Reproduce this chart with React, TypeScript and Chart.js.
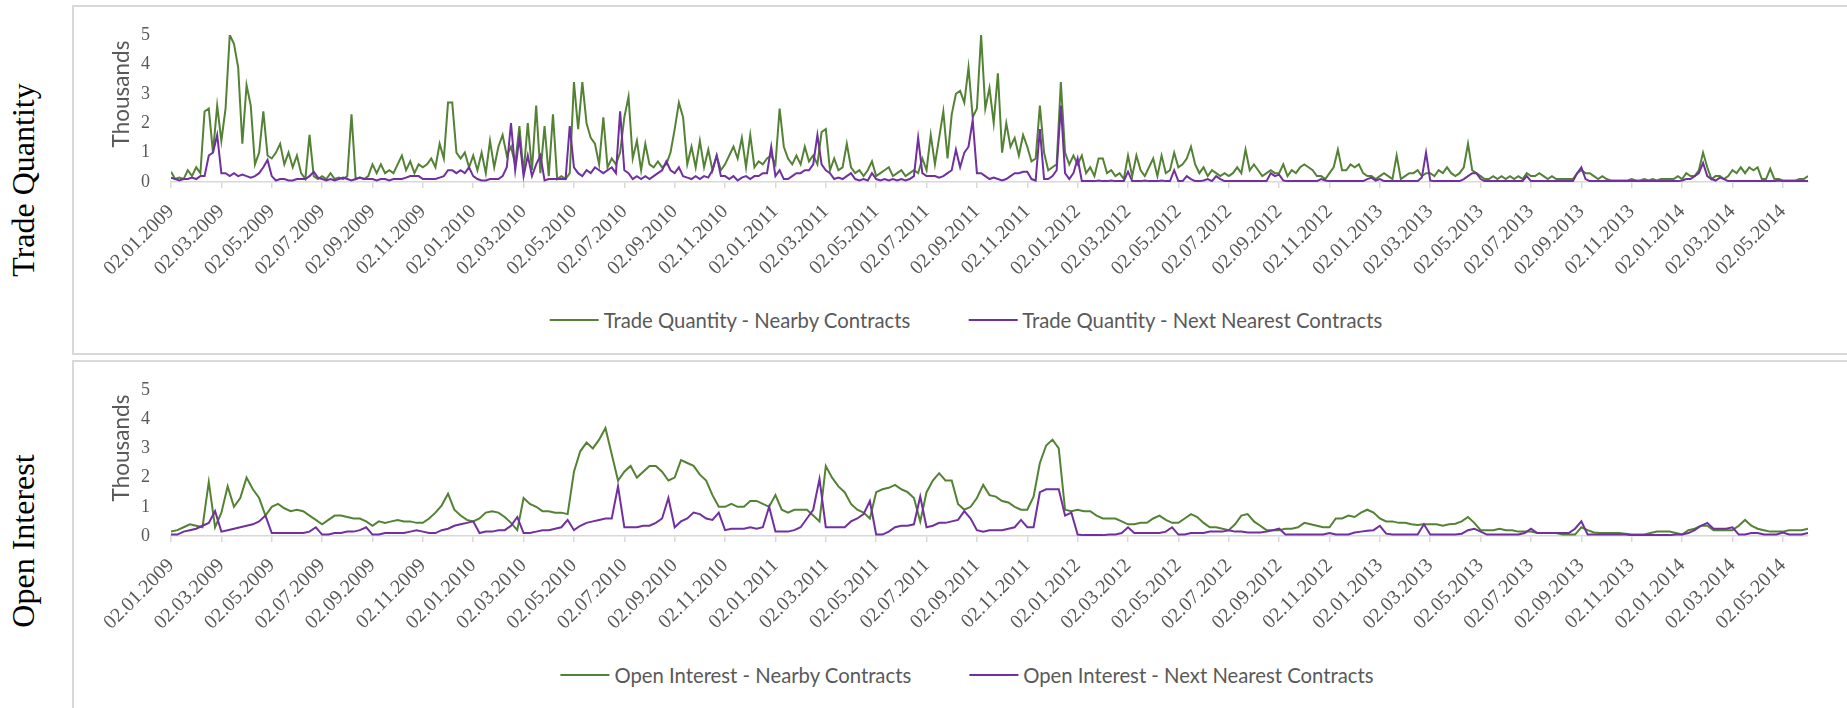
import React, { useEffect, useRef } from "react";
import { Chart, registerables } from "chart.js";

Chart.register(...registerables);

const GREEN = "#548235";
const PURPLE = "#7030a0";
const AXIS_GRAY = "#d9d9d9";
const TEXT_GRAY = "#595959";
const SERIF = "'Liberation Serif', 'Times New Roman', serif";
const SANS = "Lato, 'Open Sans', sans-serif";

// x axis: months after 02.01.2009
const tickMonths = [0, 2, 4, 6, 8, 10, 12, 14, 16, 18, 20, 22, 24, 26, 28, 30, 32, 34, 36, 38, 40, 42, 44, 46, 48, 50, 52, 54, 56, 58, 60, 62, 64];
const tickLabels = [
  "02.01.2009", "02.03.2009", "02.05.2009", "02.07.2009", "02.09.2009", "02.11.2009",
  "02.01.2010", "02.03.2010", "02.05.2010", "02.07.2010", "02.09.2010", "02.11.2010",
  "02.01.2011", "02.03.2011", "02.05.2011", "02.07.2011", "02.09.2011", "02.11.2011",
  "02.01.2012", "02.03.2012", "02.05.2012", "02.07.2012", "02.09.2012", "02.11.2012",
  "02.01.2013", "02.03.2013", "02.05.2013", "02.07.2013", "02.09.2013", "02.11.2013",
  "02.01.2014", "02.03.2014", "02.05.2014",
];
const yTicks = [0, 1, 2, 3, 4, 5];
const X_MAX = 65;
const TQ_STEP = 1 / 6; // months between trade-quantity samples
const OI_STEP = 0.25; // months between open-interest samples

const tqLabels = ["Trade Quantity - Nearby Contracts", "Trade Quantity - Next Nearest Contracts"];
const oiLabels = ["Open Interest - Nearby Contracts", "Open Interest - Next Nearest Contracts"];

// Trade Quantity, thousands
const tqNearby = [
  0.35, 0.1, 0.15, 0.1, 0.4, 0.2,
  0.5, 0.3, 2.4, 2.5, 1.0, 2.6,
  1.4, 2.5, 5.0, 4.7, 3.9, 1.3,
  3.3, 2.6, 0.6, 1.0, 2.4, 0.9,
  0.8, 1.0, 1.3, 0.6, 1.0, 0.5,
  0.9, 0.3, 0.1, 1.6, 0.2, 0.1,
  0.2, 0.1, 0.3, 0.1, 0.15, 0.1,
  0.2, 2.3, 0.1, 0.15, 0.1, 0.2,
  0.6, 0.3, 0.6, 0.3, 0.4, 0.3,
  0.6, 0.9, 0.4, 0.7, 0.3, 0.6,
  0.5, 0.6, 0.8, 0.5, 1.3, 0.8,
  2.7, 2.7, 1.0, 0.8, 1.0, 0.5,
  0.9, 0.4, 1.0, 0.3, 1.4, 0.5,
  1.2, 1.6, 0.9, 1.2, 0.6, 1.9,
  0.3, 2.0, 0.4, 2.6, 0.3, 1.9,
  0.2, 2.3, 0.1, 0.2, 0.1, 0.3,
  3.4, 1.8, 3.4, 2.0, 1.5, 1.3,
  0.6, 2.2, 0.5, 0.8, 0.6, 1.0,
  2.2, 2.9, 0.8, 1.4, 0.4, 1.3,
  0.6, 0.5, 0.7, 0.5, 0.6, 1.0,
  1.8, 2.7, 2.2, 0.6, 1.2, 0.5,
  1.4, 0.5, 1.1, 0.4, 0.9, 0.4,
  0.6, 0.9, 1.2, 0.8, 1.5, 0.5,
  1.6, 0.5, 0.7, 0.6, 0.8, 0.9,
  0.6, 2.5, 1.2, 0.8, 0.6, 0.9,
  0.6, 1.2, 0.7, 0.9, 0.6, 1.7,
  1.8, 0.4, 0.8, 0.4, 0.5, 1.3,
  0.5, 0.3, 0.4, 0.2, 0.4, 0.7,
  0.2, 0.3, 0.4, 0.5, 0.2, 0.3,
  0.4, 0.2, 0.3, 0.4, 0.3, 0.8,
  0.4, 1.6, 0.6, 1.5, 2.4, 0.8,
  2.3, 3.0, 3.1, 2.7, 3.9, 2.2,
  2.5, 5.0, 2.5, 3.2, 2.0, 3.7,
  1.0, 2.0, 1.2, 1.5, 0.9, 1.6,
  1.2, 0.7, 0.8, 2.6, 1.0, 0.4,
  0.5, 0.6, 3.4, 1.0, 0.6, 0.9,
  0.6, 0.9, 0.3, 0.5, 0.2, 0.8,
  0.8, 0.3, 0.4, 0.2, 0.3, 0.1,
  0.9, 0.2, 0.9, 0.4, 0.2, 0.5,
  0.8, 0.2, 0.9, 0.3, 0.4, 1.0,
  0.5, 0.6, 0.8, 1.2, 0.6, 0.3,
  0.5, 0.2, 0.4, 0.3, 0.2, 0.3,
  0.2, 0.3, 0.5, 0.3, 1.1, 0.4,
  0.6, 0.4, 0.2, 0.3, 0.4, 0.3,
  0.3, 0.6, 0.2, 0.4, 0.3, 0.5,
  0.6, 0.5, 0.4, 0.2, 0.2, 0.1,
  0.3, 0.5, 1.1, 0.4, 0.4, 0.6,
  0.5, 0.6, 0.3, 0.2, 0.2, 0.1,
  0.2, 0.3, 0.2, 0.1, 0.9, 0.1,
  0.2, 0.3, 0.3, 0.4, 0.2, 0.3,
  0.3, 0.2, 0.4, 0.3, 0.5, 0.3,
  0.2, 0.3, 0.5, 1.3, 0.4, 0.3,
  0.2, 0.1, 0.1, 0.2, 0.1, 0.2,
  0.1, 0.2, 0.1, 0.2, 0.1, 0.3,
  0.2, 0.2, 0.3, 0.2, 0.1, 0.2,
  0.1, 0.1, 0.1, 0.1, 0.1, 0.3,
  0.4, 0.3, 0.3, 0.2, 0.1, 0.2,
  0.1, 0.05, 0.05, 0.05, 0.05, 0.05,
  0.1, 0.05, 0.05, 0.1, 0.05, 0.1,
  0.05, 0.1, 0.1, 0.1, 0.1, 0.2,
  0.1, 0.3, 0.2, 0.2, 0.4, 1.0,
  0.5, 0.1, 0.2, 0.2, 0.1, 0.2,
  0.4, 0.3, 0.5, 0.3, 0.5, 0.4,
  0.5, 0.1, 0.1, 0.45, 0.1, 0.1,
  0.05, 0.05, 0.05, 0.05, 0.1, 0.1,
  0.2,
];

const tqNext = [
  0.15, 0.1, 0.05, 0.1, 0.1, 0.15,
  0.1, 0.2, 0.2, 0.9, 1.0, 1.6,
  0.3, 0.3, 0.2, 0.3, 0.2, 0.25,
  0.2, 0.15, 0.2, 0.3, 0.5, 0.75,
  0.2, 0.05, 0.1, 0.1, 0.05, 0.05,
  0.1, 0.1, 0.1, 0.2, 0.35, 0.15,
  0.1, 0.05, 0.1, 0.05, 0.1, 0.15,
  0.1, 0.05, 0.1, 0.15, 0.1, 0.1,
  0.1, 0.05, 0.1, 0.1, 0.05, 0.1,
  0.1, 0.1, 0.15, 0.2, 0.2, 0.2,
  0.1, 0.1, 0.1, 0.1, 0.15, 0.2,
  0.4, 0.4, 0.3, 0.4, 0.3, 0.5,
  0.2, 0.1, 0.05, 0.05, 0.1, 0.1,
  0.1, 0.2, 0.5, 2.0, 0.4, 1.5,
  0.2, 0.9, 0.2, 0.6, 0.9, 0.05,
  0.1, 0.1, 0.1, 0.1, 0.1, 1.9,
  0.5, 0.3, 0.2, 0.4, 0.3, 0.5,
  0.4, 0.3, 0.4, 0.5, 0.3, 2.4,
  0.4, 0.3, 0.1, 0.2, 0.1, 0.2,
  0.1, 0.2, 0.3, 0.4, 0.7, 0.4,
  0.3, 0.5, 0.2, 0.15, 0.1, 0.2,
  0.1, 0.2, 0.15, 0.4, 0.9, 0.2,
  0.2, 0.1, 0.2, 0.05, 0.15, 0.2,
  0.1, 0.2, 0.2, 0.3, 0.3, 1.2,
  0.2, 0.4, 0.1, 0.1, 0.2, 0.3,
  0.3, 0.4, 0.4, 0.6, 1.6, 0.6,
  0.4, 0.3, 0.1, 0.15, 0.1, 0.2,
  0.3, 0.1, 0.05, 0.1, 0.05, 0.3,
  0.1, 0.05, 0.1, 0.05, 0.1, 0.05,
  0.1, 0.05, 0.1, 0.2, 1.5, 0.3,
  0.2, 0.2, 0.2, 0.15, 0.2, 0.3,
  0.4, 1.1, 0.5, 1.0, 1.2, 2.1,
  0.3, 0.3, 0.2, 0.1, 0.15, 0.1,
  0.05, 0.1, 0.2, 0.3, 0.3, 0.35,
  0.35, 0.1, 0.05, 1.8, 0.1, 0.1,
  0.2, 0.4, 2.6, 0.3, 0.1, 0.3,
  0.8, 0.03, 0.03, 0.03, 0.03, 0.05,
  0.03, 0.03, 0.05, 0.03, 0.03, 0.03,
  0.35, 0.03, 0.03, 0.03, 0.05, 0.03,
  0.03, 0.03, 0.05, 0.03, 0.03, 0.4,
  0.03, 0.03, 0.2, 0.1, 0.03, 0.03,
  0.05, 0.1, 0.03, 0.2, 0.1, 0.03,
  0.03, 0.03, 0.03, 0.03, 0.03, 0.03,
  0.03, 0.03, 0.03, 0.03, 0.3, 0.2,
  0.25, 0.05, 0.03, 0.03, 0.03, 0.03,
  0.03, 0.03, 0.03, 0.03, 0.1, 0.05,
  0.03, 0.03, 0.03, 0.03, 0.03, 0.03,
  0.03, 0.03, 0.03, 0.1, 0.15, 0.05,
  0.1, 0.03, 0.03, 0.03, 0.03, 0.03,
  0.03, 0.03, 0.03, 0.03, 0.15, 1.0,
  0.05, 0.03, 0.03, 0.03, 0.03, 0.03,
  0.03, 0.03, 0.1, 0.2, 0.3, 0.3,
  0.1, 0.03, 0.03, 0.03, 0.03, 0.03,
  0.03, 0.03, 0.03, 0.03, 0.03, 0.2,
  0.03, 0.03, 0.03, 0.03, 0.03, 0.03,
  0.03, 0.03, 0.03, 0.03, 0.03, 0.3,
  0.5, 0.1, 0.03, 0.03, 0.03, 0.03,
  0.03, 0.03, 0.03, 0.03, 0.03, 0.03,
  0.03, 0.03, 0.03, 0.03, 0.03, 0.03,
  0.03, 0.03, 0.03, 0.03, 0.03, 0.03,
  0.05, 0.1, 0.1, 0.2, 0.3, 0.65,
  0.2, 0.1, 0.05, 0.15, 0.1, 0.03,
  0.03, 0.03, 0.03, 0.03, 0.03, 0.03,
  0.03, 0.03, 0.03, 0.03, 0.03, 0.05,
  0.03, 0.03, 0.03, 0.03, 0.03, 0.03,
  0.03,
];

// Open Interest, thousands
const oiNearby = [
  0.15, 0.2, 0.3, 0.4,
  0.35, 0.3, 1.85, 0.3,
  0.8, 1.7, 1.0, 1.3,
  2.0, 1.6, 1.3, 0.7,
  1.0, 1.1, 0.95, 0.85,
  0.9, 0.85, 0.7, 0.55,
  0.4, 0.55, 0.7, 0.7,
  0.65, 0.6, 0.6, 0.5,
  0.35, 0.5, 0.45, 0.5,
  0.55, 0.5, 0.5, 0.45,
  0.45, 0.6, 0.8, 1.05,
  1.45, 0.9, 0.7, 0.55,
  0.5, 0.6, 0.8, 0.85,
  0.8, 0.65, 0.45, 0.2,
  1.3, 1.1, 1.0, 0.85,
  0.85, 0.8, 0.8, 0.75,
  2.2, 2.9, 3.2, 3.0,
  3.3, 3.7, 2.8, 1.9,
  2.2, 2.4, 2.0, 2.2,
  2.4, 2.4, 2.2, 1.9,
  2.0, 2.6, 2.5, 2.4,
  2.1, 1.9, 1.4, 1.0,
  1.0, 1.1, 1.0, 1.0,
  1.2, 1.2, 1.1, 1.0,
  1.4, 0.9, 0.8, 0.9,
  0.9, 0.9, 0.7, 0.5,
  2.4, 2.0, 1.7, 1.5,
  1.1, 0.9, 0.8, 0.6,
  1.5, 1.6, 1.65, 1.75,
  1.6, 1.5, 1.3, 0.5,
  1.5, 1.9, 2.15, 1.9,
  1.9, 1.1, 0.9, 1.0,
  1.3, 1.75, 1.4, 1.35,
  1.2, 1.15, 1.0, 0.9,
  0.9, 1.35, 2.5, 3.1,
  3.3, 3.0, 0.9, 0.85,
  0.9, 0.85, 0.85, 0.7,
  0.6, 0.6, 0.6, 0.5,
  0.4, 0.4, 0.45, 0.45,
  0.6, 0.7, 0.55, 0.45,
  0.45, 0.6, 0.75, 0.65,
  0.45, 0.3, 0.3, 0.25,
  0.2, 0.4, 0.7, 0.75,
  0.5, 0.35, 0.2, 0.2,
  0.2, 0.25, 0.25, 0.3,
  0.45, 0.4, 0.35, 0.3,
  0.3, 0.6, 0.6, 0.7,
  0.65, 0.8, 0.9, 0.8,
  0.6, 0.5, 0.5, 0.45,
  0.45, 0.4, 0.38, 0.4,
  0.4, 0.4, 0.35, 0.4,
  0.42, 0.5, 0.65, 0.45,
  0.2, 0.2, 0.2, 0.25,
  0.2, 0.2, 0.15, 0.15,
  0.15, 0.1, 0.1, 0.1,
  0.1, 0.05, 0.05, 0.05,
  0.3, 0.2, 0.12, 0.1,
  0.1, 0.1, 0.1, 0.08,
  0.05, 0.05, 0.05, 0.1,
  0.15, 0.15, 0.15, 0.1,
  0.05, 0.2, 0.25, 0.35,
  0.35, 0.2, 0.2, 0.2,
  0.2, 0.35, 0.55, 0.35,
  0.25, 0.2, 0.15, 0.15,
  0.15, 0.2, 0.2, 0.2,
  0.25,
];

const oiNext = [
  0.05, 0.05, 0.15, 0.2,
  0.25, 0.35, 0.45, 0.85,
  0.15, 0.2, 0.25, 0.3,
  0.35, 0.4, 0.5, 0.7,
  0.1, 0.1, 0.1, 0.1,
  0.1, 0.1, 0.15, 0.3,
  0.05, 0.05, 0.1, 0.1,
  0.15, 0.15, 0.2, 0.3,
  0.05, 0.05, 0.1, 0.1,
  0.1, 0.1, 0.15, 0.2,
  0.15, 0.1, 0.1, 0.2,
  0.25, 0.35, 0.4, 0.45,
  0.5, 0.1, 0.15, 0.15,
  0.2, 0.2, 0.35, 0.65,
  0.1, 0.1, 0.15, 0.2,
  0.2, 0.25, 0.3, 0.55,
  0.2, 0.35, 0.45, 0.5,
  0.55, 0.6, 0.6, 1.7,
  0.3, 0.3, 0.3, 0.35,
  0.35, 0.45, 0.6, 1.3,
  0.3, 0.5, 0.6, 0.8,
  0.75, 0.6, 0.55, 0.8,
  0.2, 0.25, 0.25, 0.25,
  0.3, 0.25, 0.3, 1.0,
  0.15, 0.15, 0.15, 0.2,
  0.3, 0.6, 0.9, 1.95,
  0.3, 0.3, 0.3, 0.3,
  0.5, 0.6, 0.75, 1.2,
  0.05, 0.05, 0.15, 0.3,
  0.35, 0.35, 0.4, 1.35,
  0.3, 0.35, 0.45, 0.45,
  0.5, 0.55, 0.85, 0.6,
  0.2, 0.15, 0.2, 0.2,
  0.2, 0.25, 0.3, 0.55,
  0.3, 0.3, 1.5, 1.6,
  1.6, 1.6, 0.7, 0.8,
  0.05, 0.03, 0.03, 0.03,
  0.03, 0.05, 0.05, 0.1,
  0.3, 0.1, 0.1, 0.1,
  0.1, 0.1, 0.15, 0.3,
  0.05, 0.05, 0.1, 0.1,
  0.1, 0.15, 0.15, 0.15,
  0.2, 0.15, 0.15, 0.12,
  0.12, 0.12, 0.15, 0.2,
  0.25, 0.05, 0.05, 0.05,
  0.05, 0.05, 0.05, 0.05,
  0.1, 0.05, 0.05, 0.05,
  0.12, 0.15, 0.18, 0.2,
  0.35, 0.08, 0.05, 0.05,
  0.05, 0.05, 0.05, 0.4,
  0.05, 0.05, 0.05, 0.05,
  0.05, 0.08, 0.2, 0.25,
  0.15, 0.05, 0.05, 0.05,
  0.05, 0.05, 0.05, 0.1,
  0.25, 0.1, 0.1, 0.1,
  0.1, 0.1, 0.1, 0.25,
  0.5, 0.05, 0.05, 0.05,
  0.05, 0.05, 0.05, 0.05,
  0.03, 0.03, 0.03, 0.03,
  0.03, 0.03, 0.03, 0.05,
  0.05, 0.1, 0.2, 0.35,
  0.45, 0.25, 0.25, 0.25,
  0.3, 0.05, 0.05, 0.1,
  0.1, 0.05, 0.05, 0.05,
  0.12, 0.05, 0.05, 0.05,
  0.1,
];

type Series = { label: string; values: number[]; step: number; color: string; order: number };

function toXY(values: number[], step: number) {
  return values.map((v, i) => ({ x: i * step, y: v }));
}

const CANVAS_W = 1847;
const PLOT_LEFT = 171;
const PLOT_RIGHT = 1808;

function LineChart(props: { top: number; height: number; plotTop: number; plotBottom: number; series: Series[] }) {
  const { top, height, plotTop, plotBottom, series } = props;
  const ref = useRef<HTMLCanvasElement>(null);
  useEffect(() => {
    const chart = new Chart(ref.current as HTMLCanvasElement, {
      type: "line",
      data: {
        datasets: series.map((s) => ({
          label: s.label,
          data: toXY(s.values, s.step),
          borderColor: s.color,
          backgroundColor: s.color,
          borderWidth: 2,
          pointRadius: 0,
          pointHoverRadius: 0,
          tension: 0,
          fill: false,
          order: s.order,
        })),
      },
      options: {
        animation: false,
        responsive: false,
        maintainAspectRatio: false,
        events: [],
        layout: { padding: { top: plotTop, right: CANVAS_W - PLOT_RIGHT, left: 0, bottom: 0 } },
        plugins: { legend: { display: false }, tooltip: { enabled: false } },
        scales: {
          x: {
            type: "linear",
            min: 0,
            max: X_MAX,
            afterBuildTicks: (s: any) => {
              s.ticks = tickMonths.map((v) => ({ value: v }));
            },
            afterFit: (s: any) => {
              s.height = height - plotBottom;
            },
            ticks: {
              autoSkip: false,
              minRotation: 45,
              maxRotation: 45,
              padding: 12,
              color: TEXT_GRAY,
              font: { family: SERIF, size: 20 },
              callback: (_v: any, i: number) => tickLabels[i],
            },
            grid: { display: true, drawOnChartArea: false, drawTicks: true, tickLength: 6, color: AXIS_GRAY, lineWidth: 1.5 },
            border: { display: true, color: AXIS_GRAY, width: 1.5 },
          },
          y: {
            min: 0,
            max: 5,
            afterBuildTicks: (s: any) => {
              s.ticks = yTicks.map((v) => ({ value: v }));
            },
            afterFit: (s: any) => {
              s.width = PLOT_LEFT;
            },
            ticks: { padding: 21, color: TEXT_GRAY, font: { family: SERIF, size: 18 } },
            grid: { display: false, drawTicks: false },
            border: { display: false },
          },
        },
      },
    } as any);
    return () => chart.destroy();
  }, []);
  return (
    <canvas
      ref={ref}
      width={CANVAS_W}
      height={height}
      style={{ position: "absolute", left: 0, top, width: CANVAS_W, height }}
    />
  );
}

function SideLabel(props: { text: string; cx: number; cy: number }) {
  return (
    <div
      style={{
        position: "absolute",
        left: props.cx,
        top: props.cy,
        transform: "translate(-50%, -50%) rotate(-90deg)",
        whiteSpace: "nowrap",
        fontFamily: SERIF,
        fontSize: 32,
        lineHeight: 1,
        color: "#000",
      }}
    >
      {props.text}
    </div>
  );
}

function Thousands(props: { cx: number; cy: number }) {
  return (
    <div
      style={{
        position: "absolute",
        left: props.cx,
        top: props.cy,
        transform: "translate(-50%, -50%) rotate(-90deg)",
        whiteSpace: "nowrap",
        fontFamily: SANS,
        fontSize: 22.5,
        lineHeight: 1.2,
        color: TEXT_GRAY,
      }}
    >
      Thousands
    </div>
  );
}

function Legend(props: { cx: number; cy: number; labels: string[] }) {
  const colors = [GREEN, PURPLE];
  return (
    <div
      style={{
        position: "absolute",
        left: props.cx,
        top: props.cy,
        transform: "translate(-50%, -50%)",
        display: "flex",
        alignItems: "center",
        whiteSpace: "nowrap",
        fontFamily: SANS,
        fontSize: 20.3,
        lineHeight: "24px",
        color: TEXT_GRAY,
      }}
    >
      {props.labels.map((l, k) => (
        <div key={k} style={{ display: "flex", alignItems: "center", marginLeft: k ? 58 : 0 }}>
          <div style={{ width: 49, height: 2.5, background: colors[k], marginRight: 5 }} />
          <span>{l}</span>
        </div>
      ))}
    </div>
  );
}

export default function App() {
  const tqSeries: Series[] = [
    { label: tqLabels[0], values: tqNearby, step: TQ_STEP, color: GREEN, order: 1 },
    { label: tqLabels[1], values: tqNext, step: TQ_STEP, color: PURPLE, order: 0 },
  ];
  const oiSeries: Series[] = [
    { label: oiLabels[0], values: oiNearby, step: OI_STEP, color: GREEN, order: 1 },
    { label: oiLabels[1], values: oiNext, step: OI_STEP, color: PURPLE, order: 0 },
  ];
  return (
    <div style={{ position: "fixed", left: 0, top: 0, width: 1847, height: 708, background: "#fff", overflow: "hidden" }}>
      <div style={{ position: "absolute", left: 72, top: 5, width: 1900, height: 350, border: "2px solid #d9d9d9", boxSizing: "border-box" }} />
      <div style={{ position: "absolute", left: 72, top: 360, width: 1900, height: 500, border: "2px solid #d9d9d9", boxSizing: "border-box" }} />
      <SideLabel text="Trade Quantity" cx={23} cy={180} />
      <SideLabel text="Open Interest" cx={23} cy={541} />
      <LineChart top={0} height={300} plotTop={35} plotBottom={182} series={tqSeries} />
      <LineChart top={355} height={300} plotTop={35} plotBottom={181} series={oiSeries} />
      <Thousands cx={119.5} cy={94} />
      <Thousands cx={119.5} cy={448} />
      <Legend cx={966} cy={320} labels={tqLabels} />
      <Legend cx={967} cy={675} labels={oiLabels} />
    </div>
  );
}
